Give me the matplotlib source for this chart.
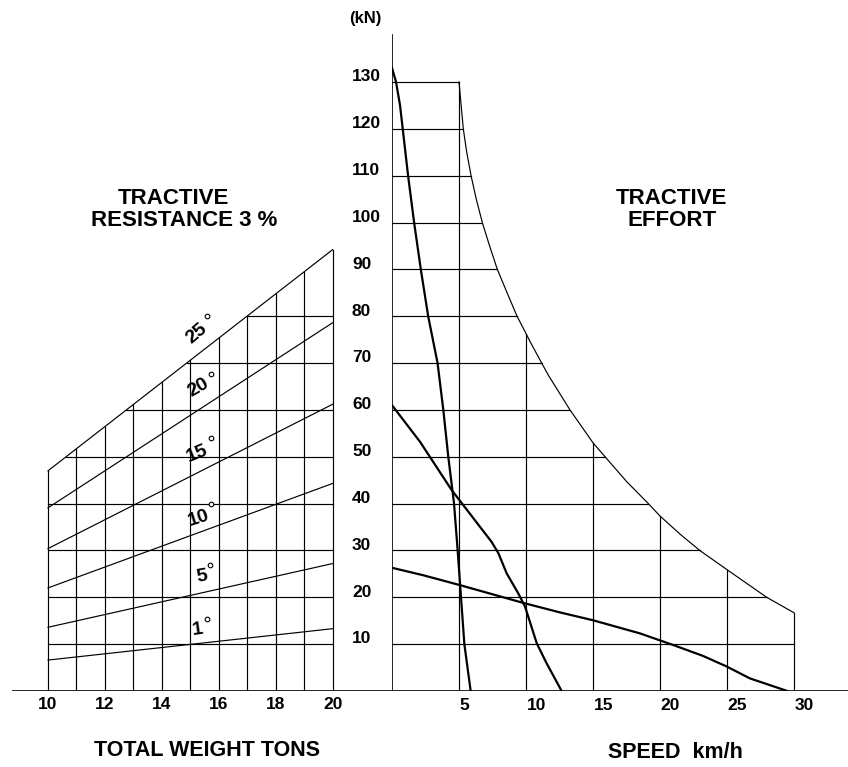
import numpy as np
import matplotlib
matplotlib.use("Agg")
import matplotlib.pyplot as plt

plt.rcParams['font.family'] = ['Liberation Sans', 'DejaVu Sans']
plt.rcParams['font.weight'] = 'bold'

# ---- left panel: tractive resistance 3 % ----
weight_ticks = [10, 12, 14, 16, 18, 20]
weight_grid = [10, 11, 12, 13, 14, 15, 16, 17, 18, 19, 20]
resist_grid = [10, 20, 30, 40, 50, 60, 70, 80]
slope_deg = [1, 5, 10, 15, 20, 25]
res_at_10t = [6.6, 13.6, 22.0, 30.4, 39.1, 47.0]
res_at_20t = [13.3, 27.2, 44.3, 61.2, 78.6, 94.2]

# ---- right panel: tractive effort ----
speed_ticks = [5, 10, 15, 20, 25, 30]
force_ticks = [10, 20, 30, 40, 50, 60, 70, 80, 90, 100, 110, 120, 130]
env_speed = [5.0, 5.32, 5.57, 5.9, 6.27, 6.74, 7.26, 7.86, 8.56, 9.33, 10.0, 10.3, 11.17,
             11.67, 13.28, 15.02, 15.9, 17.51, 19.13, 20.0, 21.49, 22.99, 25.1, 27.96, 30.0]
env_force = [130, 120, 115.1, 110, 105.2, 100, 95.2, 90, 85.2, 80, 76.3, 74.6, 70,
             67.4, 60, 52.9, 50, 44.7, 40, 37.35, 33.5, 29.95, 25.7, 20.0, 16.7]

gear1_speed = [0, 0.3, 0.6, 0.8, 1.2, 1.65, 2.15, 2.7, 3.4, 3.83, 4.2, 4.63, 4.9, 5.15, 5.4, 5.87]
gear1_force = [133, 130, 125, 120, 110, 100, 90, 80, 70, 60, 50, 40, 30, 20, 10, 0]
gear2_speed = [0, 2.09, 4.45, 7.44, 7.94, 8.56, 9.43, 9.93, 10.8, 11.54, 12.66]
gear2_force = [61.0, 53.2, 42.9, 31.8, 29.4, 25.1, 20.8, 18.0, 10.2, 5.9, 0]
gear3_speed = [0, 2.34, 5.07, 9.8, 12.5, 15.0, 18.5, 21.0, 23.2, 25.0, 26.7, 29.5]
gear3_force = [26.3, 24.7, 22.6, 18.8, 16.8, 15.1, 12.3, 9.8, 7.5, 5.2, 2.7, 0]

# label layout for the slope lines: digits (weight, kN, rotation), degree ring (weight, kN)
slope_label_pos = [(15.24, 13.0, 8), (15.41, 24.4, 10), (15.29, 36.9, 18),
                   (15.24, 50.7, 22), (15.29, 64.8, 30), (15.24, 76.35, 40)]
degree_pos = [(15.59, 15.3), (15.68, 26.9), (15.74, 39.9),
              (15.73, 53.9), (15.73, 67.7), (15.59, 80.1)]

W, H = 848, 767
fig = plt.figure(figsize=(W / 100, H / 100), dpi=100)
ax_b = 76 / H
ax_h = 691 / H
ymax = 691 / 4.685

thin = 0.85
thick = 1.6

# left axes
axl = fig.add_axes([12 / W, ax_b, 380 / W, ax_h])
axl.set_xlim(10 - 36 / 28.46, 10 + 344 / 28.46)
axl.set_ylim(0, ymax)
axl.axis('off')

top = np.interp(weight_grid, [10, 20], [res_at_10t[-1], res_at_20t[-1]])
for w, t in zip(weight_grid, top):
    axl.plot([w, w], [0, t], color='black', lw=thin)
for k in resist_grid:
    w0 = np.interp(k, [res_at_10t[-1], res_at_20t[-1]], [10, 20])
    axl.plot([w0, 20], [k, k], color='black', lw=thin)
for a, b in zip(res_at_10t, res_at_20t):
    axl.plot([10, 20], [a, b], color='black', lw=thin)
for deg, (x, y, rot), (dx, dy) in zip(slope_deg, slope_label_pos, degree_pos):
    axl.text(x, y, str(deg), fontsize=14, ha='center', va='center', rotation=rot)
    axl.plot([dx], [dy], marker='o', ms=3.3, mfc='white', mec='black', mew=0.8)
axl.axhline(0, color='black', lw=1.2)
for w in weight_ticks:
    axl.text(w, -2.8, str(w), fontsize=12.5, ha='center', va='center')

# right axes
axr = fig.add_axes([392 / W, ax_b, 456 / W, ax_h])
axr.set_xlim(0, 456 / 13.4)
axr.set_ylim(0, ymax)
axr.axis('off')

axr.plot([0, 0], [0, 140], color='black', lw=1.2)
for k in force_ticks:
    s = np.interp(k, env_force[::-1], env_speed[::-1])
    axr.plot([0, s], [k, k], color='black', lw=thin)
for v in speed_ticks:
    f = np.interp(v, env_speed, env_force)
    axr.plot([v, v], [0, f], color='black', lw=thin)
axr.plot(env_speed, env_force, color='black', lw=thin)

axr.plot(gear1_speed, gear1_force, color='black', lw=thick)
axr.plot(gear2_speed, gear2_force, color='black', lw=thick)
axr.plot(gear3_speed, gear3_force, color='black', lw=thick)

axr.axhline(0, color='black', lw=1.2)
for v in speed_ticks:
    axr.text(v + 0.05, -3.0, str(v), fontsize=12.5, ha='left', va='center')
for k in force_ticks:
    axr.text(-2.99, k + 1.1, str(k), fontsize=12.5, ha='left', va='center', clip_on=False)
axr.text(-2.0, ymax - 18.5 / 4.685, "(kN)", fontsize=12, ha='center', va='center', clip_on=False)

# titles
fig.text(173 / W, 1 - 199 / H, "TRACTIVE", fontsize=16, ha='center', va='center')
fig.text(184 / W, 1 - 221 / H, "RESISTANCE 3 %", fontsize=16, ha='center', va='center')
fig.text(671 / W, 1 - 199 / H, "TRACTIVE", fontsize=16, ha='center', va='center')
fig.text(672 / W, 1 - 221 / H, "EFFORT", fontsize=16, ha='center', va='center')
fig.text(207 / W, 1 - 751 / H, "TOTAL WEIGHT TONS", fontsize=15.5, ha='center', va='center')
fig.text(675 / W, 1 - 752 / H, "SPEED  km/h", fontsize=15.5, ha='center', va='center')

fig.savefig("out.png", dpi=100)
